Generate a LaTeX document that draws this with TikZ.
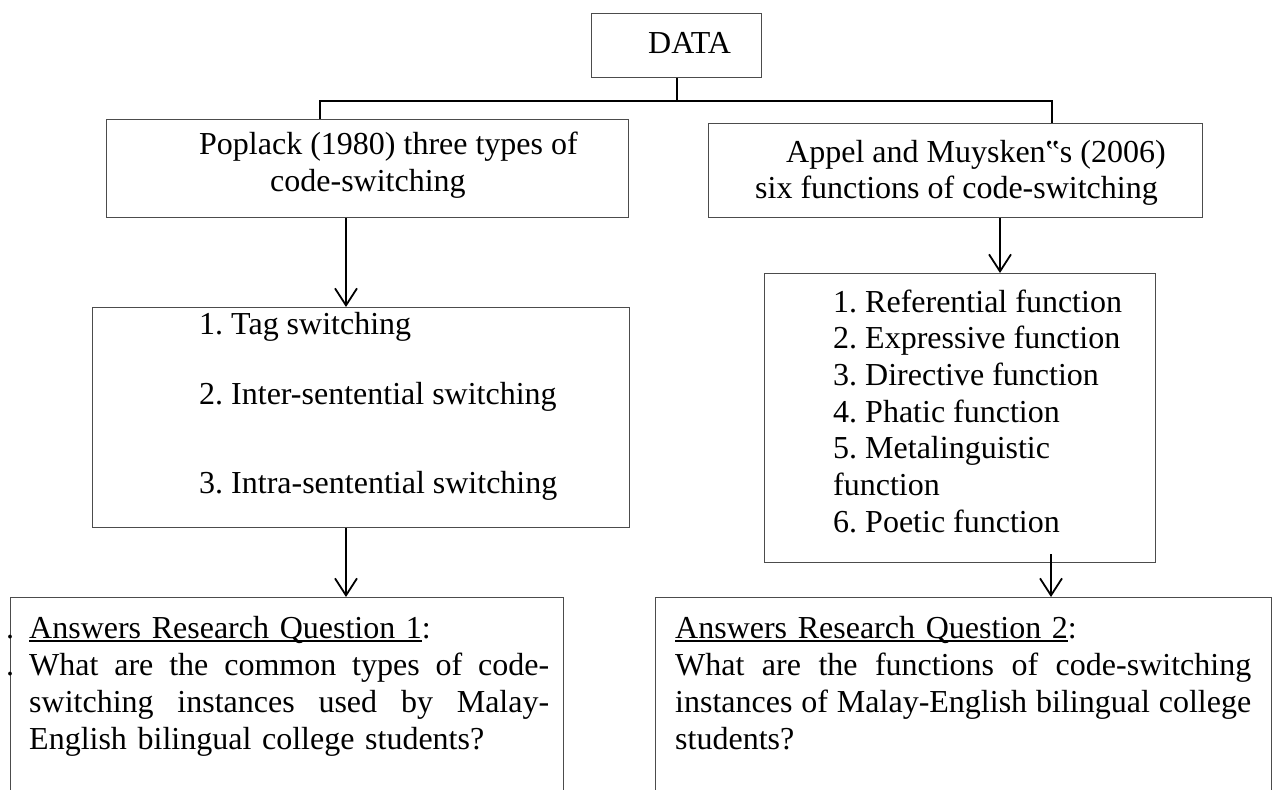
\documentclass[tikz,border=0pt]{standalone}
\usepackage{fontspec}
\setmainfont{Liberation Serif}
\usetikzlibrary{arrows.meta}
\frenchspacing
\newcommand{\qline}[1]{\setbox0\hbox{#1}\rlap{\rule[-3.5pt]{\wd0}{1.5pt}}\box0}
\newcommand{\fullline}[2]{\leavevmode\hbox to #1{\spaceskip=0.25em plus 1fil minus 0.1em\relax #2}}

\begin{document}
\begin{tikzpicture}[x=1pt, y=-1pt,
    box/.style={draw=black!70, line width=1.3pt, inner sep=0pt, anchor=north west},
    txt/.style={inner sep=0pt, anchor=base west, font=\fontsize{32}{37}\selectfont},
    link/.style={line width=1.8pt},
    arr/.style={line width=1.8pt, -{Straight Barb[length=17pt, width=22pt, line width=1.8pt]}}]
\useasboundingbox (0,0) rectangle (1275,790);

% boxes
\node[box, minimum width=170pt, minimum height=64pt] (data) at (591,13) {};
\node[box, minimum width=522pt, minimum height=98pt] (pop) at (106,119) {};
\node[box, minimum width=494pt, minimum height=94pt] (app) at (708,123) {};
\node[box, minimum width=537pt, minimum height=220pt] (types) at (92,307) {};
\node[box, minimum width=391pt, minimum height=289pt] (funcs) at (764,273) {};
\node[box, minimum width=553pt, minimum height=250pt] (rq1) at (10,597) {};
\node[box, minimum width=616pt, minimum height=250pt] (rq2) at (655,597) {};

% texts
\node[txt] (datat) at (648,53) {DATA};
\node[txt] (popa) at (199,154) {Poplack (1980) three types of};
\node[txt] (popb) at (270,191) {code-switching};
\node[txt] (appa) at (786,162) {Appel and Muysken‟s (2006)};
\node[txt] (appb) at (755,198) {six functions of code-switching};
\node[txt] (t1) at (199,334) {1. Tag switching};
\node[txt] (t2) at (199,404) {2. Inter-sentential switching};
\node[txt] (t3) at (199,493) {3. Intra-sentential switching};
\foreach \y/\s [count=\i] in {312/1. Referential function, 348/2. Expressive function,
    385/3. Directive function, 422/4. Phatic function, 458/5. Metalinguistic,
    495/function, 532/6. Poetic function}
  \node[txt] (f\i) at (833,\y) {\s};
\node[txt, text width=520pt] (q1) at (29,638)
  {\qline{Answers Research Question 1}:\\
   \fullline{520pt}{What are the common types of code-}\\
   \fullline{520pt}{switching instances used by Malay-}\\
   English bilingual college students?};
\node[txt, text width=576pt] (q2) at (675,638)
  {\qline{Answers Research Question 2}:\\
   \fullline{576pt}{What are the functions of code-switching}\\
   \fullline{576pt}{instances of Malay-English bilingual college}\\
   students?};
\node[txt] (dota) at (6,638) {.};
\node[txt] (dotb) at (6,675) {.};

% connectors
\coordinate (jl) at (320,101);
\coordinate (jr) at (1052,101);
\coordinate (al) at (346,0);
\coordinate (ar) at (1000,0);
\coordinate (br) at (1051,0);
\draw[link] (data.south) -- (data.south |- jl);
\draw[link] (pop.north -| jl) -- (jl) -- (jr) -- (app.north -| jr);
\draw[arr] (pop.south -| al) -- (types.north -| al);
\draw[arr] (types.south -| al) -- (rq1.north -| al);
\draw[arr] (app.south -| ar) -- (funcs.north -| ar);
\draw[arr] ([yshift=9pt]funcs.south -| br) -- (rq2.north -| br);
\end{tikzpicture}
\end{document}
